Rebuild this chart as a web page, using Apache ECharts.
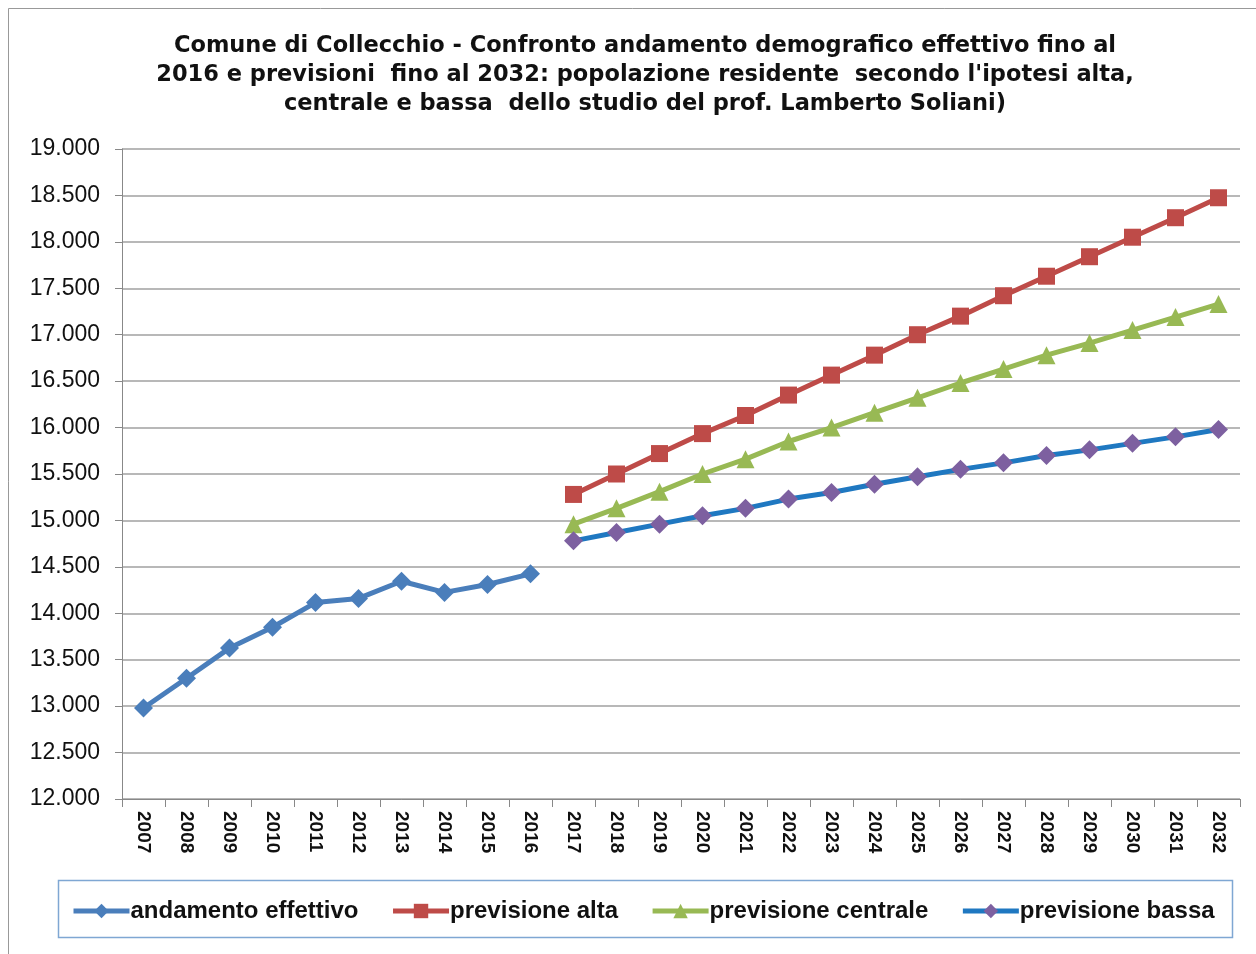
<!DOCTYPE html>
<html><head><meta charset="utf-8">
<script src="https://cdn.jsdelivr.net/npm/echarts@6/dist/echarts.min.js"></script>
<style>html,body{margin:0;padding:0;background:#fff}#c{width:1256px;height:954px}</style>
</head><body><div id="c"></div>
<script>
const years = ['2007','2008','2009','2010','2011','2012','2013','2014','2015','2016','2017','2018','2019','2020','2021','2022','2023','2024','2025','2026','2027','2028','2029','2030','2031','2032'];
const effettivo = [12980,13300,13625,13850,14115,14160,14345,14225,14310,14425];
const alta = [15280,15500,15720,15935,16130,16350,16565,16780,17000,17200,17420,17630,17840,18050,18260,18475];
const centrale = [14960,15130,15310,15500,15660,15850,16000,16160,16320,16480,16630,16780,16910,17050,17190,17330];
const bassa = [14780,14870,14960,15050,15130,15230,15300,15390,15470,15550,15620,15700,15760,15830,15900,15980];
const yTicks = {min:12000, max:19000, interval:500};

const pad = (arr, before) => Array(before).fill(null).concat(arr).concat(Array(years.length - before - arr.length).fill(null));
const fmt = v => String(v).replace(/\B(?=(\d{3})+(?!\d))/g, '.');
const font = 'Liberation Sans, Arial, sans-serif';

const chart = echarts.init(document.getElementById('c'), null, {renderer:'canvas'});
chart.setOption({
  backgroundColor:'#fff',
  animation:false,
  title:{
    text:"Comune di Collecchio - Confronto andamento demografico effettivo fino al\n2016 e previsioni  fino al 2032: popolazione residente  secondo l'ipotesi alta,\ncentrale e bassa  dello studio del prof. Lamberto Soliani)",
    left:640, top:27, textAlign:'center',
    textStyle:{fontFamily:'DejaVu Sans, sans-serif', fontSize:22.5, fontWeight:'bold', color:'#111', lineHeight:29}
  },
  graphic:[
    {type:'rect', shape:{x:8.5,y:8.5,width:1260,height:960}, style:{fill:null, stroke:'#999', lineWidth:1}, z:-1},
    {type:'rect', shape:{x:58.5,y:880.5,width:1174,height:57}, style:{fill:null, stroke:'#7fa7d3', lineWidth:1.5}, z:-1}
  ],
  legend:{
    left:66, top:894, itemGap:32, itemWidth:56, itemHeight:18,
    lineStyle:{width:5},
    textStyle:{fontFamily:font, fontSize:24, fontWeight:'bold', color:'#111', padding:[0,0,0,-4]},
    data:['andamento effettivo','previsione alta','previsione centrale','previsione bassa']
  },
  grid:{left:122, right:16, top:149, bottom:155, containLabel:false},
  xAxis:{
    type:'category', data:years, boundaryGap:true,
    axisLine:{lineStyle:{color:'#888', width:1}},
    axisTick:{show:true, length:8, lineStyle:{color:'#888'}},
    axisLabel:{rotate:-90, fontFamily:font, fontSize:19, fontWeight:'bold', color:'#111', margin:12, interval:0}
  },
  yAxis:{
    type:'value', min:yTicks.min, max:yTicks.max, interval:yTicks.interval,
    axisLine:{show:true, lineStyle:{color:'#888'}},
    axisTick:{show:true, length:7, lineStyle:{color:'#888'}},
    splitLine:{lineStyle:{color:'#a0a0a0', width:1.5}},
    axisLabel:{formatter:fmt, fontFamily:font, fontSize:23, color:'#111', margin:22}
  },
  series:[
    {name:'andamento effettivo', type:'line', data:pad(effettivo,0), symbol:'diamond', symbolSize:19,
     lineStyle:{color:'#4a7ebb', width:5}, itemStyle:{color:'#4a7ebb'}, connectNulls:false},
    {name:'previsione alta', type:'line', data:pad(alta,10), symbol:'rect', symbolSize:17,
     lineStyle:{color:'#be4b48', width:5}, itemStyle:{color:'#be4b48'}},
    {name:'previsione centrale', type:'line', data:pad(centrale,10), symbol:'triangle', symbolSize:18,
     lineStyle:{color:'#98b954', width:5}, itemStyle:{color:'#98b954'}},
    {name:'previsione bassa', type:'line', data:pad(bassa,10), symbol:'diamond', symbolSize:19,
     lineStyle:{color:'#1f78c1', width:5}, itemStyle:{color:'#7d60a0'}}
  ]
});
</script></body></html>
